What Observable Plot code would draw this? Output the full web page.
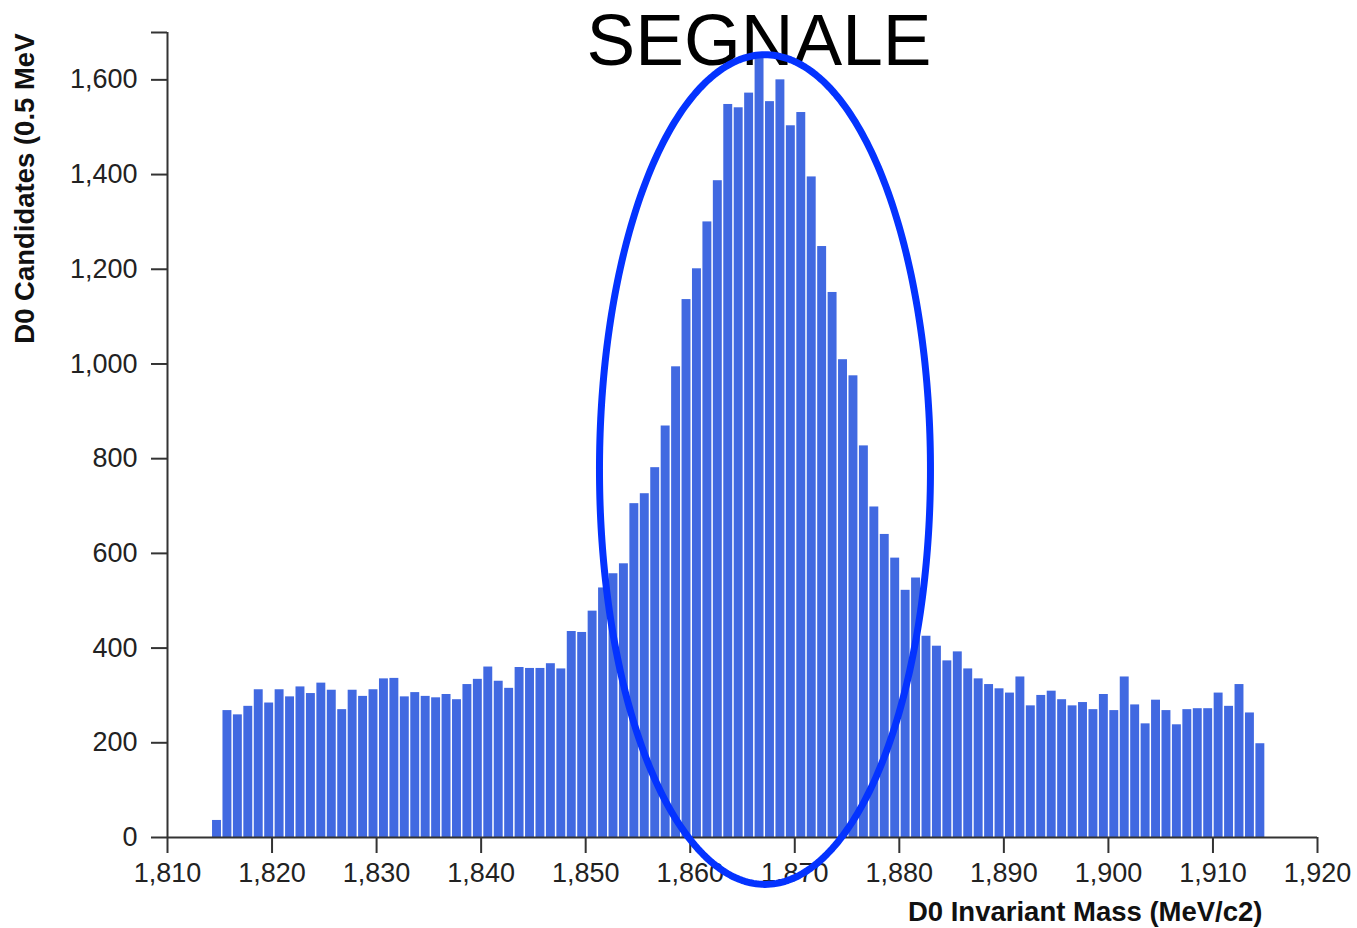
<!DOCTYPE html>
<html><head><meta charset="utf-8">
<script src="https://cdn.jsdelivr.net/npm/d3@7"></script>
<script src="https://cdn.jsdelivr.net/npm/@observablehq/plot@0.6"></script>
<style>
body{margin:0;background:#fff;}
#wrap{position:relative;width:1357px;height:928px;overflow:hidden;}
#title{position:absolute;left:759px;top:3px;transform:translateX(-50%);font-family:"Liberation Sans",Arial,sans-serif;font-size:73px;line-height:73px;color:#000;white-space:nowrap;z-index:0;}
#chart{position:absolute;left:0;top:0;z-index:1;}
</style></head><body>
<div id="wrap"><div id="title">SEGNALE</div><div id="chart"></div></div>
<script>
// D0 candidate counts per bin
const counts = [
  36, 268, 259, 277, 312, 284, 312, 297, 318, 304,
  326, 311, 270, 311, 298, 312, 335, 336, 297, 306,
  298, 295, 302, 291, 323, 334, 360, 330, 315, 359,
  357, 357, 367, 356, 435, 433, 478, 527, 557, 578,
  705, 726, 781, 869, 994, 1136, 1201, 1300, 1387, 1548,
  1541, 1572, 1650, 1554, 1600, 1503, 1531, 1395, 1248, 1151,
  1009, 975, 827, 698, 640, 590, 522, 548, 425, 404,
  373, 392, 356, 335, 323, 314, 305, 339, 278, 300,
  309, 291, 278, 285, 270, 302, 268, 339, 280, 240,
  290, 268, 238, 270, 272, 272, 305, 277, 323, 263,
  198
];
const binStart = 1814.26;   // MeV, left edge of the first bin
const binWidth = 0.998;     // MeV
const xTicks = [1810, 1820, 1830, 1840, 1850, 1860, 1870, 1880, 1890, 1900, 1910, 1920];
const yTicks = [0, 200, 400, 600, 800, 1000, 1200, 1400, 1600];
const xDomain = [1810, 1920];
const yDomain = [0, 1700];
const xLabel = "D0 Invariant Mass (MeV/c2)";
const yLabel = "D0 Candidates (0.5 MeV";
const titleText = "SEGNALE";
// annotation ellipse, in data units
const ellipseCx = 1867.15, ellipseCy = 777, ellipseRx = 15.83, ellipseRy = 876;

document.getElementById("title").textContent = titleText;

const bins = counts.map((c, i) => ({x1: binStart + i * binWidth, x2: binStart + (i + 1) * binWidth, count: c}));
const ellipsePts = d3.range(0, 360, 1).map(a => {
  const t = a * Math.PI / 180;
  return {x: ellipseCx + ellipseRx * Math.cos(t), y: ellipseCy + ellipseRy * Math.sin(t)};
});
const fmt = d3.format(",");

const chart = Plot.plot({
  width: 1357,
  height: 928,
  marginLeft: 167,
  marginRight: 40,
  marginTop: 32,
  marginBottom: 91,
  style: {fontFamily: "'Liberation Sans', Arial, sans-serif", fontSize: "27px", color: "#222", background: "transparent", overflow: "visible"},
  x: {domain: xDomain},
  y: {domain: yDomain},
  marks: [
    Plot.rectY(bins, {x1: "x1", x2: "x2", y: "count", fill: "#4169e1", insetLeft: 0.5, insetRight: 1}),
    Plot.ruleX([xDomain[0]], {y1: yDomain[0], y2: yDomain[1], stroke: "#333", strokeWidth: 2}),
    Plot.ruleY([0], {x1: xDomain[0], x2: xDomain[1], stroke: "#333", strokeWidth: 2}),
    Plot.axisY([...yTicks, yDomain[1]], {tickSize: 16, tickPadding: 14, tickFormat: d => d === yDomain[1] ? "" : fmt(d), label: null, stroke: "#333", strokeWidth: 2, fontSize: 27, fill: "#222"}),
    Plot.axisX(xTicks, {tickSize: 16, tickPadding: 9, tickFormat: fmt, label: null, stroke: "#333", strokeWidth: 2, fontSize: 27, fill: "#222"}),
    Plot.text([yLabel], {frameAnchor: "top-left", text: d => d, dx: -142, dy: 1, rotate: -90, textAnchor: "end", lineAnchor: "middle", fontWeight: "bold", fontSize: 27.5, fill: "#111"}),
    Plot.text([xLabel], {frameAnchor: "bottom-right", text: d => d, dx: -55, dy: 75, textAnchor: "end", lineAnchor: "middle", fontWeight: "bold", fontSize: 27.5, fill: "#111"}),
    Plot.line(ellipsePts, {x: "x", y: "y", curve: "linear-closed", stroke: "#0433ff", strokeWidth: 7, clip: false})
  ]
});
document.getElementById("chart").appendChild(chart);
</script>
</body></html>
